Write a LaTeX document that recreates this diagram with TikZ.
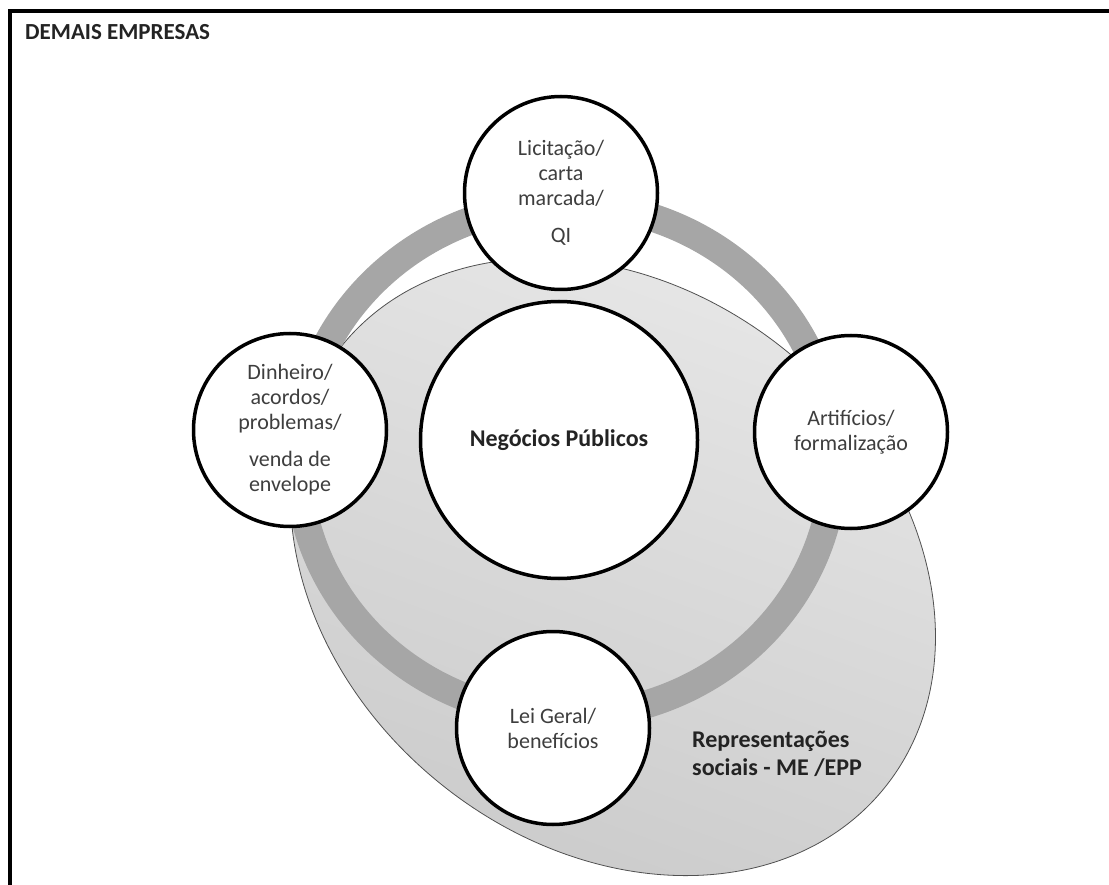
\documentclass[tikz,border=0pt]{standalone}
\usepackage{fontspec}
\setmainfont{Carlito}
\definecolor{ringgray}{RGB}{166,166,166}
\definecolor{txtgray}{RGB}{62,62,62}
\definecolor{boldgray}{RGB}{35,35,35}
\definecolor{elltop}{RGB}{232,232,232}
\definecolor{ellbot}{RGB}{202,202,202}
\definecolor{elledge}{RGB}{80,80,80}
\tikzset{
  sat/.style={circle, draw=black, line width=3.5pt, fill=white,
    minimum size=193pt, inner sep=0pt, align=center,
    font=\fontsize{22}{25}\selectfont, text=txtgray},
  hub/.style={circle, draw=black, line width=3.5pt, fill=white,
    minimum size=277pt, inner sep=0pt, align=center,
    font=\bfseries\fontsize{24}{28}\selectfont, text=boldgray},
  lbl/.style={align=left, inner sep=0pt, text=boldgray,
    font=\bfseries\fontsize{24}{28}\selectfont},
}
\begin{document}
\begin{tikzpicture}[x=1pt,y=-1pt]
\useasboundingbox (0,0) rectangle (1109,885);
% frame
\draw[line width=4pt] (10,885) -- (10,11) -- (1109,11);
\node[anchor=west, inner sep=0pt, text=boldgray, font=\bfseries\fontsize{23}{25}\selectfont] (title) at (25,32) {DEMAIS EMPRESAS};
% social representations ellipse
\begin{scope}[shift={(613,567)}, rotate=-39.5]
  \path[shade, top color=elltop, bottom color=ellbot, shading angle=-20]
    (0,0) ellipse [x radius=350pt, y radius=277pt];
  \draw[elledge, line width=0.8pt] (0,0) ellipse [x radius=350pt, y radius=277pt];
\end{scope}
% ring
\draw[ringgray, line width=28pt] (566,460) ellipse [x radius=268pt, y radius=256pt];
% circles
\node[hub] (np) at (559,440) {Negócios Públicos};
\node[sat] (lic) at (561,193) {Licitação/\\carta\\marcada/\\[12pt]QI};
\node[sat] (din) at (290,430) {Dinheiro/\\acordos/\\problemas/\\[12pt]venda de\\envelope};
\node[sat] (art) at (851,432) {Artifícios/\\formalização};
\node[sat] (lei) at (553,728) {Lei Geral/\\benefícios};
\node[lbl, anchor=west] (rep) at (692,754) {Representações\\sociais - ME /EPP};
\end{tikzpicture}
\end{document}
